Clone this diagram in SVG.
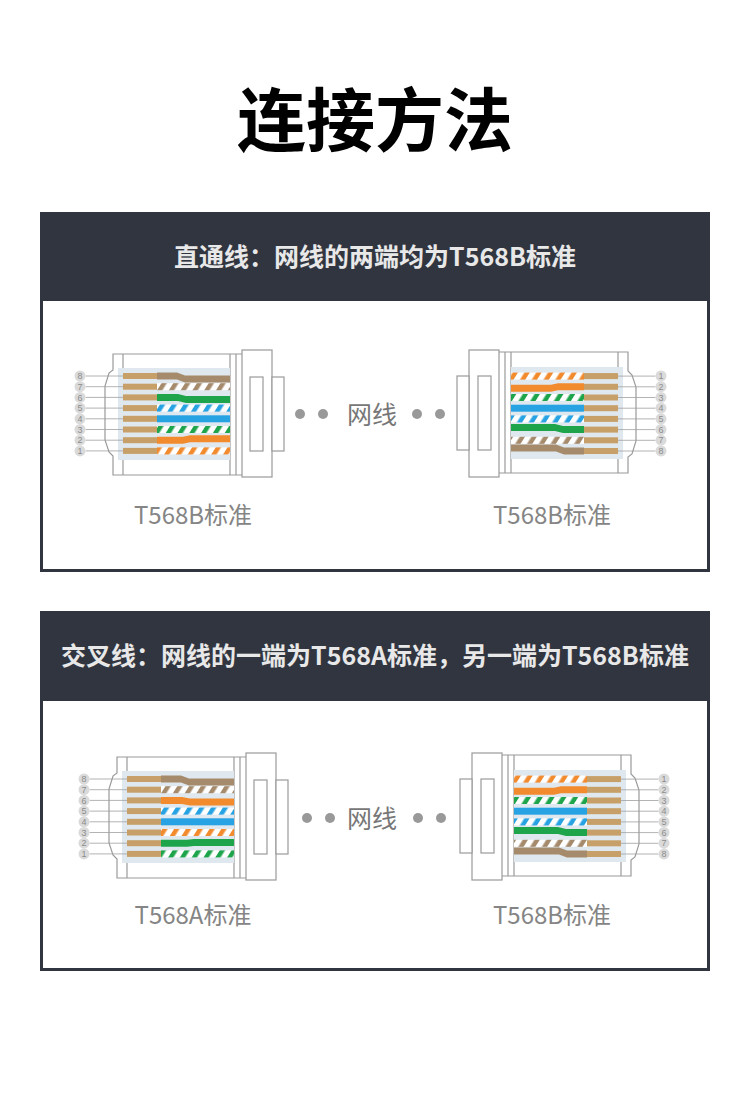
<svg xmlns="http://www.w3.org/2000/svg" xmlns:xlink="http://www.w3.org/1999/xlink" width="750" height="1101" viewBox="0 0 750 1101">
<style>
.cjk{font-family:"Noto Sans CJK SC","Noto Sans",sans-serif}
.title{font-size:69px;font-weight:bold;fill:#000}
.hdr{font-size:25px;font-weight:bold;fill:#e8e8e8}
.lbl{font-size:24px;fill:#858585}
.mid{font-size:25px;fill:#777}
.panel{fill:#fff;stroke:#30353f;stroke-width:3}
.head{fill:#30353f}
.ol{fill:none;stroke:#9a9a9a;stroke-width:1.2}
.olw{fill:#fff;stroke:#9a9a9a;stroke-width:1.2}
.lead{stroke:#a0a0a0;stroke-width:0.8}
.pin{fill:#c6a068}
.num{font-family:"Liberation Sans",sans-serif;font-size:9px;fill:#8c8c8c;text-anchor:middle}
.dot{fill:#999}
.circ{fill:#dadada}
</style>
<defs>
<pattern id="pO" patternUnits="userSpaceOnUse" width="10" height="10" patternTransform="rotate(32)"><rect width="10" height="10" fill="#fff"/><rect width="4.5" height="10" fill="#f28a2e"/></pattern>
<pattern id="pG" patternUnits="userSpaceOnUse" width="10" height="10" patternTransform="rotate(32)"><rect width="10" height="10" fill="#fff"/><rect width="4.5" height="10" fill="#1ea54c"/></pattern>
<pattern id="pB" patternUnits="userSpaceOnUse" width="10" height="10" patternTransform="rotate(32)"><rect width="10" height="10" fill="#fff"/><rect width="4.5" height="10" fill="#27a3e3"/></pattern>
<pattern id="pN" patternUnits="userSpaceOnUse" width="10" height="10" patternTransform="rotate(32)"><rect width="10" height="10" fill="#fff"/><rect width="4.5" height="10" fill="#a58a6c"/></pattern>
<g id="shell">
<path class="olw" d="M242 354 H113 V370 L109 373 L105 386 V440 L109 452 L113 456 V475 H242"/>
<line class="ol" x1="123" y1="354" x2="123" y2="475"/>
<line class="ol" x1="230" y1="354" x2="230" y2="475"/>
<line class="ol" x1="236" y1="354" x2="236" y2="475"/>
<rect x="118" y="368" width="112" height="92" fill="#e0e8ef"/>
<rect class="olw" x="242" y="350" width="30" height="127"/>
<rect class="ol" x="250" y="377" width="13" height="74"/>
<rect class="olw" x="272" y="377" width="12" height="74"/>
<g class="lead">
<line x1="85.5" y1="376" x2="123" y2="376"/>
<line x1="85.5" y1="386.7" x2="123" y2="386.7"/>
<line x1="85.5" y1="397.4" x2="123" y2="397.4"/>
<line x1="85.5" y1="408.1" x2="123" y2="408.1"/>
<line x1="85.5" y1="418.8" x2="123" y2="418.8"/>
<line x1="85.5" y1="429.5" x2="123" y2="429.5"/>
<line x1="85.5" y1="440.2" x2="123" y2="440.2"/>
<line x1="85.5" y1="450.9" x2="123" y2="450.9"/>
</g>
<g class="pin">
<rect x="123" y="373" width="34" height="6"/>
<rect x="123" y="383.7" width="34" height="6"/>
<rect x="123" y="394.4" width="34" height="6"/>
<rect x="123" y="405.1" width="34" height="6"/>
<rect x="123" y="415.8" width="34" height="6"/>
<rect x="123" y="426.5" width="34" height="6"/>
<rect x="123" y="437.2" width="34" height="6"/>
<rect x="123" y="447.9" width="34" height="6"/>
</g>
</g>
<g id="wiresB">
<path fill="#a58a6c" d="M157 372.5 H177 L185 375.5 H230 V382.5 H185 L177 379.5 H157Z"/>
<rect x="157" y="383.2" width="73" height="7" fill="url(#pN)"/>
<path fill="#1ea54c" d="M157 393.9 H178 L186 395.9 H230 V402.9 H186 L178 400.9 H157Z"/>
<rect x="157" y="404.6" width="73" height="7" fill="url(#pB)"/>
<rect x="157" y="415.3" width="73" height="7" fill="#27a3e3"/>
<rect x="157" y="426" width="73" height="7" fill="url(#pG)"/>
<path fill="#f28a2e" d="M157 436.7 H183 L190 435.2 H230 V442.2 H190 L183 443.7 H157Z"/>
<rect x="157" y="447.4" width="73" height="7" fill="url(#pO)"/>
</g>
<g id="wiresA">
<path fill="#a58a6c" d="M157 372.5 H177 L185 375.5 H230 V382.5 H185 L177 379.5 H157Z"/>
<rect x="157" y="383.2" width="73" height="7" fill="url(#pN)"/>
<path fill="#f28a2e" d="M157 393.9 H178 L186 395.4 H230 V402.4 H186 L178 400.9 H157Z"/>
<rect x="157" y="404.6" width="73" height="7" fill="url(#pB)"/>
<rect x="157" y="415.3" width="73" height="7" fill="#27a3e3"/>
<rect x="157" y="426" width="73" height="7" fill="url(#pO)"/>
<path fill="#1ea54c" d="M157 436.7 H183 L190 436 H230 V443 H190 L183 443.7 H157Z"/>
<rect x="157" y="447.4" width="73" height="7" fill="url(#pG)"/>
</g>
</defs>

<rect width="750" height="1101" fill="#fff"/>

<g id="title"><text class="cjk title" x="375" y="146" text-anchor="middle">连接方法</text></g>

<g id="panel1">
<rect class="panel" x="41.5" y="213.5" width="667" height="357"/>
<rect class="head" x="40" y="212" width="670" height="89"/>
<text class="cjk hdr" x="375" y="266" text-anchor="middle">直通线：网线的两端均为T568B标准</text>
</g>

<g id="panel2">
<rect class="panel" x="41.5" y="612.5" width="667" height="357"/>
<rect class="head" x="40" y="611" width="670" height="90"/>
<text class="cjk hdr" x="375" y="665" text-anchor="middle">交叉线：网线的一端为T568A标准，另一端为T568B标准</text>
</g>

<g id="plug-left-1">
<use xlink:href="#shell"/>
<use xlink:href="#wiresB"/>
<g class="circ"><circle cx="80" cy="376" r="5.5"/><circle cx="80" cy="386.7" r="5.5"/><circle cx="80" cy="397.4" r="5.5"/><circle cx="80" cy="408.1" r="5.5"/><circle cx="80" cy="418.8" r="5.5"/><circle cx="80" cy="429.5" r="5.5"/><circle cx="80" cy="440.2" r="5.5"/><circle cx="80" cy="450.9" r="5.5"/></g>
<g class="num"><text x="80" y="379.2">8</text><text x="80" y="389.9">7</text><text x="80" y="400.6">6</text><text x="80" y="411.3">5</text><text x="80" y="422">4</text><text x="80" y="432.7">3</text><text x="80" y="443.4">2</text><text x="80" y="454.1">1</text></g>
<text class="cjk lbl" x="193" y="524" text-anchor="middle">T568B标准</text>
</g>

<g id="plug-right-1">
<g transform="rotate(180 370.5 413.5)"><use xlink:href="#shell"/><use xlink:href="#wiresB"/></g>
<g class="circ"><circle cx="661" cy="376" r="5.5"/><circle cx="661" cy="386.7" r="5.5"/><circle cx="661" cy="397.4" r="5.5"/><circle cx="661" cy="408.1" r="5.5"/><circle cx="661" cy="418.8" r="5.5"/><circle cx="661" cy="429.5" r="5.5"/><circle cx="661" cy="440.2" r="5.5"/><circle cx="661" cy="450.9" r="5.5"/></g>
<g class="num"><text x="661" y="379.2">1</text><text x="661" y="389.9">2</text><text x="661" y="400.6">3</text><text x="661" y="411.3">4</text><text x="661" y="422">5</text><text x="661" y="432.7">6</text><text x="661" y="443.4">7</text><text x="661" y="454.1">8</text></g>
<text class="cjk lbl" x="552" y="524" text-anchor="middle">T568B标准</text>
</g>

<g id="cable-1">
<circle class="dot" cx="300" cy="414" r="5"/><circle class="dot" cx="323" cy="414" r="5"/>
<text class="cjk mid" x="372" y="424" text-anchor="middle">网线</text>
<circle class="dot" cx="417" cy="414" r="5"/><circle class="dot" cx="440" cy="414" r="5"/>
</g>

<g id="plug-left-2" transform="translate(4 403)">
<use xlink:href="#shell"/>
<use xlink:href="#wiresA"/>
<g class="circ"><circle cx="80" cy="376" r="5.5"/><circle cx="80" cy="386.7" r="5.5"/><circle cx="80" cy="397.4" r="5.5"/><circle cx="80" cy="408.1" r="5.5"/><circle cx="80" cy="418.8" r="5.5"/><circle cx="80" cy="429.5" r="5.5"/><circle cx="80" cy="440.2" r="5.5"/><circle cx="80" cy="450.9" r="5.5"/></g>
<g class="num"><text x="80" y="379.2">8</text><text x="80" y="389.9">7</text><text x="80" y="400.6">6</text><text x="80" y="411.3">5</text><text x="80" y="422">4</text><text x="80" y="432.7">3</text><text x="80" y="443.4">2</text><text x="80" y="454.1">1</text></g>
<text class="cjk lbl" x="189" y="521" text-anchor="middle">T568A标准</text>
</g>

<g id="plug-right-2" transform="translate(3 403)">
<g transform="rotate(180 370.5 413.5)"><use xlink:href="#shell"/><use xlink:href="#wiresB"/></g>
<g class="circ"><circle cx="661" cy="376" r="5.5"/><circle cx="661" cy="386.7" r="5.5"/><circle cx="661" cy="397.4" r="5.5"/><circle cx="661" cy="408.1" r="5.5"/><circle cx="661" cy="418.8" r="5.5"/><circle cx="661" cy="429.5" r="5.5"/><circle cx="661" cy="440.2" r="5.5"/><circle cx="661" cy="450.9" r="5.5"/></g>
<g class="num"><text x="661" y="379.2">1</text><text x="661" y="389.9">2</text><text x="661" y="400.6">3</text><text x="661" y="411.3">4</text><text x="661" y="422">5</text><text x="661" y="432.7">6</text><text x="661" y="443.4">7</text><text x="661" y="454.1">8</text></g>
<text class="cjk lbl" x="549" y="521" text-anchor="middle">T568B标准</text>
</g>

<g id="cable-2">
<circle class="dot" cx="307" cy="818" r="5"/><circle class="dot" cx="330" cy="818" r="5"/>
<text class="cjk mid" x="372" y="828" text-anchor="middle">网线</text>
<circle class="dot" cx="418" cy="818" r="5"/><circle class="dot" cx="441" cy="818" r="5"/>
</g>
</svg>
